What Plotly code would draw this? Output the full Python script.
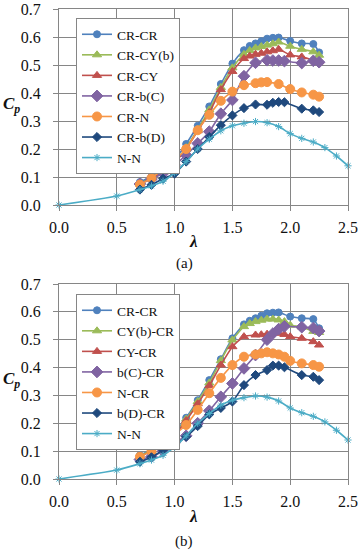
import plotly.graph_objects as go

# ---------------- data: panel (a) ----------------
a_names = ["CR-CR", "CR-CY(b)", "CR-CY", "CR-b(C)", "CR-N", "CR-b(D)", "N-N"]

a_crcr_x = [0.7, 0.8, 0.9, 1.0, 1.1, 1.2, 1.3, 1.4, 1.5, 1.6, 1.65, 1.7, 1.75, 1.8, 1.85, 1.9, 2.0, 2.1, 2.2, 2.25]
a_crcr_y = [0.082, 0.102, 0.127, 0.163, 0.218, 0.283, 0.352, 0.432, 0.505, 0.553, 0.568, 0.577, 0.585, 0.594, 0.597, 0.598, 0.586, 0.577, 0.575, 0.545]

a_crcyb_x = [0.7, 0.8, 0.9, 1.0, 1.1, 1.2, 1.3, 1.4, 1.5, 1.6, 1.65, 1.7, 1.75, 1.8, 1.85, 1.9, 2.0, 2.1, 2.2, 2.25]
a_crcyb_y = [0.078, 0.097, 0.120, 0.155, 0.205, 0.270, 0.340, 0.420, 0.490, 0.538, 0.552, 0.561, 0.566, 0.571, 0.576, 0.582, 0.567, 0.556, 0.547, 0.535]

a_crcy_x = [0.7, 0.8, 0.9, 1.0, 1.1, 1.2, 1.3, 1.4, 1.5, 1.6, 1.65, 1.7, 1.75, 1.8, 1.85, 1.9, 2.0, 2.1, 2.2, 2.25]
a_crcy_y = [0.075, 0.095, 0.118, 0.152, 0.200, 0.265, 0.330, 0.412, 0.477, 0.523, 0.532, 0.538, 0.542, 0.547, 0.551, 0.556, 0.536, 0.529, 0.517, 0.512]

a_crbc_x = [0.7, 0.8, 0.9, 1.0, 1.1, 1.2, 1.3, 1.4, 1.5, 1.6, 1.7, 1.8, 1.85, 1.9, 1.95, 2.1, 2.2, 2.25]
a_crbc_y = [0.075, 0.093, 0.113, 0.143, 0.178, 0.220, 0.262, 0.326, 0.375, 0.460, 0.508, 0.517, 0.516, 0.516, 0.514, 0.507, 0.515, 0.510]

a_crn_x = [0.7, 0.8, 0.9, 1.0, 1.1, 1.2, 1.3, 1.4, 1.5, 1.6, 1.7, 1.75, 1.8, 1.9, 2.0, 2.1, 2.2, 2.25]
a_crn_y = [0.073, 0.096, 0.128, 0.161, 0.200, 0.267, 0.322, 0.372, 0.405, 0.428, 0.435, 0.438, 0.439, 0.432, 0.414, 0.402, 0.394, 0.387]

a_crbd_x = [0.7, 0.8, 0.9, 1.0, 1.1, 1.2, 1.3, 1.4, 1.5, 1.6, 1.7, 1.8, 1.85, 1.9, 1.95, 2.1, 2.2, 2.25]
a_crbd_y = [0.055, 0.072, 0.094, 0.112, 0.155, 0.200, 0.243, 0.285, 0.320, 0.346, 0.359, 0.358, 0.365, 0.368, 0.367, 0.344, 0.338, 0.332]

a_nn_x = [0.0, 0.5, 0.7, 0.8, 0.9, 1.0, 1.1, 1.2, 1.3, 1.4, 1.5, 1.6, 1.7, 1.8, 1.9, 2.0, 2.1, 2.2, 2.3, 2.4, 2.5]
a_nn_y = [0.0, 0.032, 0.055, 0.068, 0.085, 0.115, 0.155, 0.200, 0.235, 0.265, 0.283, 0.292, 0.298, 0.294, 0.280, 0.255, 0.238, 0.225, 0.205, 0.175, 0.140]

# ---------------- data: panel (b) ----------------
b_names = ["CR-CR", "CY(b)-CR", "CY-CR", "b(C)-CR", "N-CR", "b(D)-CR", "N-N"]

b_crcr_x = [0.7, 0.8, 0.9, 1.0, 1.1, 1.2, 1.3, 1.4, 1.5, 1.6, 1.65, 1.7, 1.75, 1.8, 1.85, 1.9, 2.0, 2.1, 2.2, 2.25]
b_crcr_y = [0.085, 0.105, 0.130, 0.165, 0.220, 0.283, 0.355, 0.430, 0.505, 0.555, 0.568, 0.577, 0.586, 0.595, 0.597, 0.598, 0.583, 0.577, 0.574, 0.541]

b_cybcr_x = [0.7, 0.8, 0.9, 1.0, 1.1, 1.2, 1.3, 1.4, 1.5, 1.6, 1.65, 1.7, 1.75, 1.8, 1.85, 1.9, 1.95, 2.0, 2.1, 2.2, 2.25]
b_cybcr_y = [0.082, 0.103, 0.128, 0.162, 0.215, 0.278, 0.345, 0.425, 0.499, 0.547, 0.558, 0.565, 0.570, 0.574, 0.574, 0.571, 0.565, 0.552, 0.546, 0.530, 0.526]

b_cycr_x = [0.7, 0.8, 0.9, 1.0, 1.1, 1.2, 1.3, 1.4, 1.5, 1.6, 1.7, 1.75, 1.8, 1.9, 1.95, 2.0, 2.1, 2.2, 2.25]
b_cycr_y = [0.080, 0.100, 0.125, 0.158, 0.210, 0.270, 0.335, 0.409, 0.475, 0.511, 0.517, 0.518, 0.520, 0.523, 0.519, 0.511, 0.505, 0.493, 0.481]

b_bccr_x = [0.7, 0.8, 0.9, 1.0, 1.1, 1.2, 1.3, 1.4, 1.5, 1.6, 1.7, 1.8, 1.85, 1.9, 1.95, 2.1, 2.2, 2.25]
b_bccr_y = [0.070, 0.080, 0.100, 0.130, 0.155, 0.200, 0.245, 0.295, 0.343, 0.397, 0.445, 0.500, 0.522, 0.538, 0.548, 0.545, 0.542, 0.531]

b_ncr_x = [0.7, 0.8, 0.9, 1.0, 1.1, 1.2, 1.3, 1.4, 1.5, 1.6, 1.7, 1.75, 1.8, 1.85, 1.9, 1.95, 2.0, 2.1, 2.2, 2.25]
b_ncr_y = [0.080, 0.100, 0.125, 0.160, 0.194, 0.248, 0.308, 0.363, 0.409, 0.439, 0.447, 0.451, 0.455, 0.451, 0.447, 0.439, 0.424, 0.415, 0.409, 0.403]

b_bdcr_x = [0.7, 0.8, 0.9, 1.0, 1.1, 1.2, 1.3, 1.4, 1.5, 1.6, 1.7, 1.8, 1.85, 1.9, 1.95, 2.1, 2.2, 2.25]
b_bdcr_y = [0.062, 0.078, 0.104, 0.122, 0.152, 0.190, 0.232, 0.255, 0.278, 0.337, 0.373, 0.391, 0.407, 0.407, 0.401, 0.373, 0.367, 0.355]

b_nn_x = [0.0, 0.5, 0.7, 0.8, 0.9, 1.0, 1.1, 1.2, 1.3, 1.4, 1.5, 1.6, 1.7, 1.8, 1.9, 2.0, 2.1, 2.2, 2.3, 2.4, 2.5]
b_nn_y = [0.0, 0.032, 0.055, 0.068, 0.085, 0.115, 0.155, 0.200, 0.235, 0.265, 0.283, 0.292, 0.298, 0.294, 0.280, 0.255, 0.238, 0.225, 0.205, 0.175, 0.140]

x_ticks = [0.0, 0.5, 1.0, 1.5, 2.0, 2.5]
y_ticks = [0.0, 0.1, 0.2, 0.3, 0.4, 0.5, 0.6, 0.7]

# ---------------- styles ----------------
colors = ["#4F81BD", "#9BBB59", "#C0504D", "#8064A2", "#F79646", "#1F497D", "#4BACC6"]
symbols = ["circle", "triangle-up", "triangle-up", "diamond", "circle", "diamond", "asterisk-open"]
msizes = [7, 8, 8, 9, 9, 7, 6]
FONT = "Liberation Serif"
GRID = "#868686"

fig = go.Figure()

a_sets = [(a_crcr_x, a_crcr_y), (a_crcyb_x, a_crcyb_y), (a_crcy_x, a_crcy_y), (a_crbc_x, a_crbc_y),
          (a_crn_x, a_crn_y), (a_crbd_x, a_crbd_y), (a_nn_x, a_nn_y)]
b_sets = [(b_crcr_x, b_crcr_y), (b_cybcr_x, b_cybcr_y), (b_cycr_x, b_cycr_y), (b_bccr_x, b_bccr_y),
          (b_ncr_x, b_ncr_y), (b_bdcr_x, b_bdcr_y), (b_nn_x, b_nn_y)]

for i, (xs, ys) in enumerate(a_sets):
    fig.add_trace(go.Scatter(
        x=xs, y=ys, name=a_names[i], mode="lines+markers", xaxis="x", yaxis="y",
        legend="legend", cliponaxis=False,
        line=dict(color=colors[i], width=1.6, shape="spline", smoothing=0.6),
        marker=dict(symbol=symbols[i], size=msizes[i], color=colors[i],
                    line=dict(color=colors[i], width=1))))

for i, (xs, ys) in enumerate(b_sets):
    fig.add_trace(go.Scatter(
        x=xs, y=ys, name=b_names[i], mode="lines+markers", xaxis="x2", yaxis="y2",
        legend="legend2", cliponaxis=False,
        line=dict(color=colors[i], width=1.6, shape="spline", smoothing=0.6),
        marker=dict(symbol=symbols[i], size=msizes[i], color=colors[i],
                    line=dict(color=colors[i], width=1))))

W, H = 360, 550
xdom = [59 / W, 348 / W]
ydom_a = [1 - 205 / H, 1 - 9 / H]
ydom_b = [1 - 479 / H, 1 - 284 / H]

def xax(anchor):
    return dict(domain=xdom, anchor=anchor, range=[0, 2.5], tickvals=x_ticks,
                ticktext=[f"{v:.1f}" for v in x_ticks], showgrid=True, gridcolor=GRID,
                gridwidth=1, showline=True, linecolor=GRID, linewidth=1, mirror=True,
                ticks="outside", ticklen=5, tickcolor=GRID, zeroline=False, automargin=False,
                tickfont=dict(family=FONT, size=16, color="#111"), ticklabelstandoff=3)

def yax(anchor, dom):
    return dict(domain=dom, anchor=anchor, range=[0, 0.7], tickvals=y_ticks,
                ticktext=[f"{v:.1f}" for v in y_ticks], showgrid=True, gridcolor=GRID,
                gridwidth=1, showline=True, linecolor=GRID, linewidth=1, mirror=True,
                ticks="outside", ticklen=5, tickcolor=GRID, zeroline=False, automargin=False,
                tickfont=dict(family=FONT, size=16, color="#111"), ticklabelstandoff=9)

leg_common = dict(bgcolor="white", bordercolor=GRID, borderwidth=1,
                  font=dict(family=FONT, size=13.5, color="#111"),
                  xanchor="left", yanchor="top", tracegroupgap=0, itemwidth=30)

fig.update_layout(
    template="none",
    font=dict(family=FONT, color="#111"),
    width=W, height=H, margin=dict(l=0, r=0, t=0, b=0, pad=0, autoexpand=False),
    paper_bgcolor="white", plot_bgcolor="white",
    xaxis=xax("y"), yaxis=yax("x", ydom_a),
    xaxis2=xax("y2"), yaxis2=yax("x2", ydom_b),
    legend=dict(x=76 / W, y=1 - 18 / H, **leg_common),
    legend2=dict(x=76 / W, y=1 - 294 / H, **leg_common),
)

def ann(text, x, y, size, xanchor="center"):
    fig.add_annotation(text=text, x=x / W, y=1 - y / H, xref="paper", yref="paper",
                       showarrow=False, font=dict(family=FONT, size=size, color="#111"),
                       xanchor=xanchor, yanchor="middle")

for yc, lab, yl, yp in [(105, "(a)", 242, 263), (380, "(b)", 516, 541)]:
    ann("<b><i>C<sub>p</sub></i></b>", 1, yc, 17, xanchor="left")
    ann("<b><i>λ</i></b>", 193, yl, 17)
    ann(lab, 184, yp, 15)

fig.write_html("out.html", config={"displayModeBar": False},
               post_script="document.body.style.margin='0';document.body.style.overflow='hidden';")
